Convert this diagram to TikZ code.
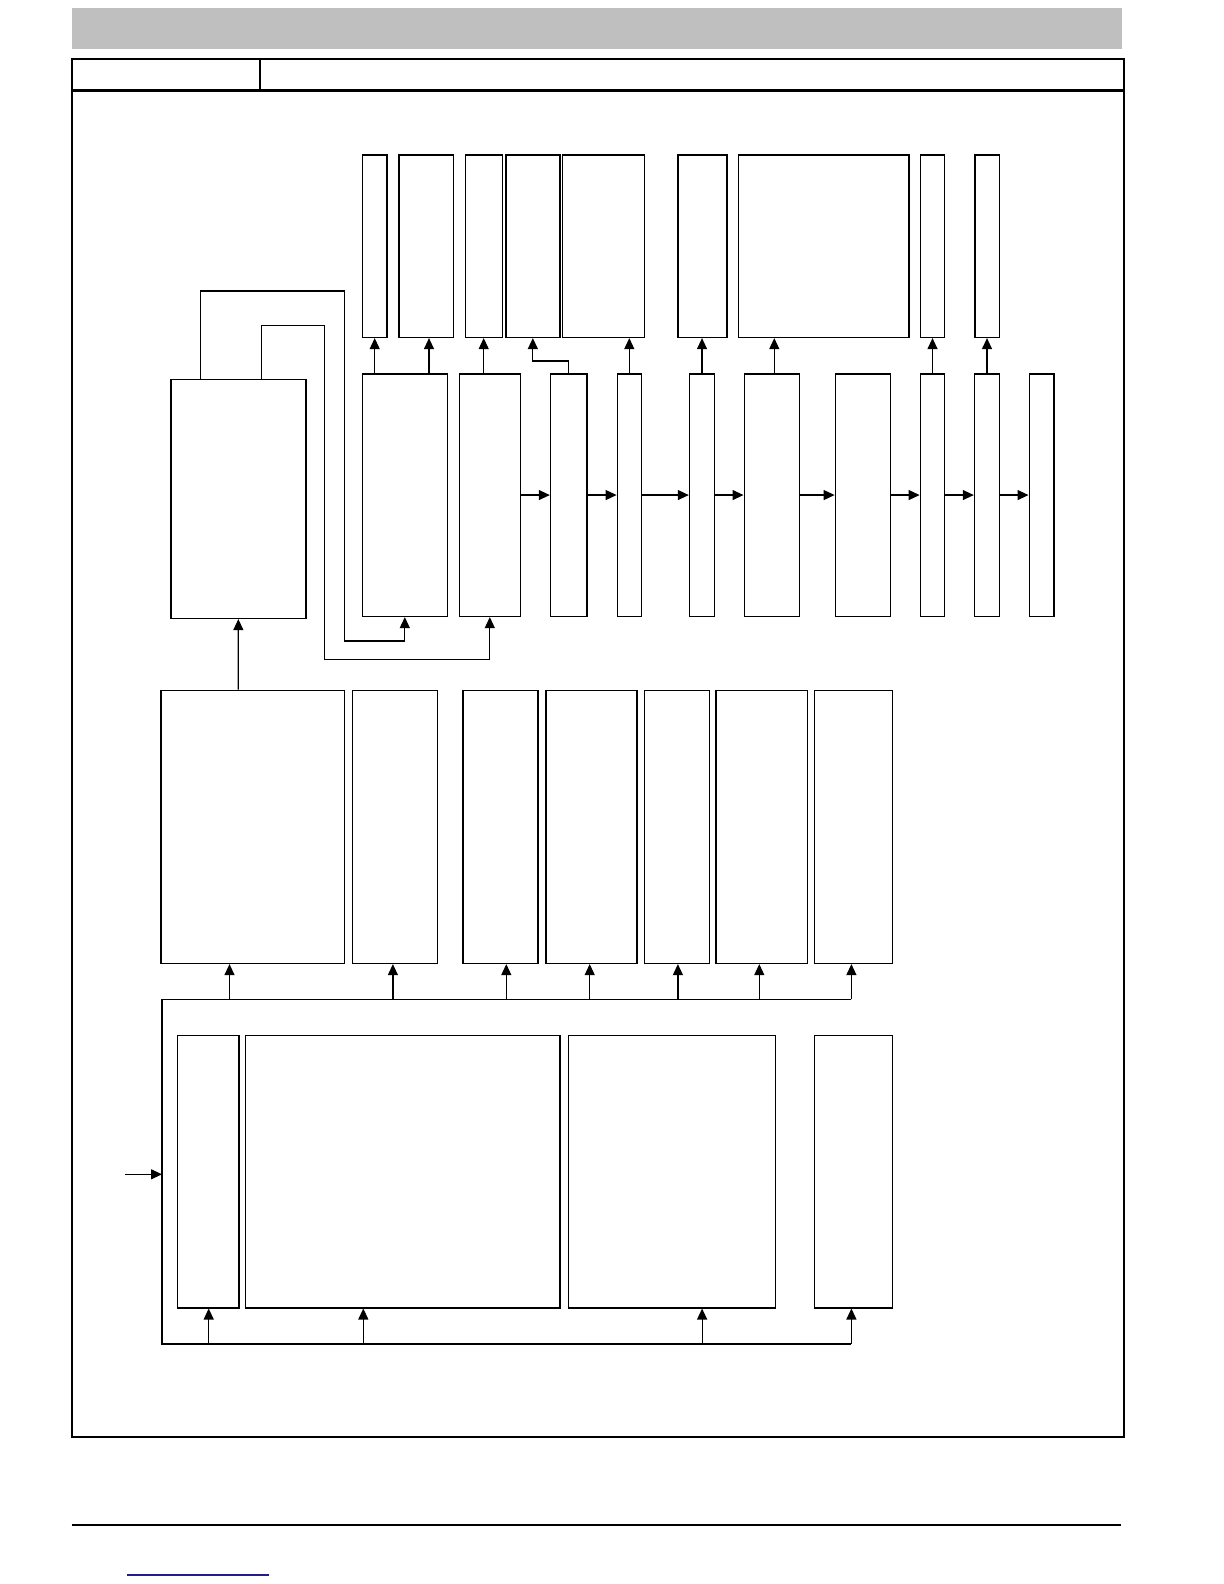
\documentclass[tikz,border=0pt]{standalone}
\usetikzlibrary{arrows.meta,fit}
\definecolor{hdrgray}{RGB}{191,191,191}
\definecolor{linkblue}{RGB}{30,30,140}
\newcommand\bx[5]{\node[box, fit={(#2,#3) (#4,#5)}] (#1) {};}
\begin{document}
\begin{tikzpicture}[x=0.5pt,y=-0.5pt,
  box/.style={draw, line width=0.8pt, inner sep=0pt},
  frame/.style={draw, line width=1pt, inner sep=0pt},
  arr/.style={line width=0.6pt, -{Triangle[length=5.5pt,width=5pt]}},
  wire/.style={line width=0.6pt}]
\useasboundingbox (0,0) rectangle (1224,1584);
% header
\fill[hdrgray] (71.7,8) rectangle (1121.5,49.5);
\node[frame, fit={(71.7,58.6) (1124,1436.5)}] (page) {};
\draw[line width=1.2pt] (page.west |- 0,90.5) -- (page.east |- 0,90.5);
\draw[line width=1pt] (259.6,0 |- page.north) -- (259.6,90.5);
% footer
\draw[line width=1pt] (71.5,1524.5) -- (1121,1524.5);
\draw[linkblue, line width=0.6pt] (127,1575) -- (268.5,1575);

% top row
\bx{T1}{362.3}{155}{386.7}{337.3}
\bx{T2}{398.7}{155}{453.3}{337.3}
\bx{T3}{465.3}{155}{502.3}{337.3}
\bx{T4}{505.7}{155}{560}{337.3}
\bx{T5}{562.3}{155}{644.3}{337.3}
\bx{T6}{677.7}{155}{726.7}{337.3}
\bx{T7}{738.3}{155}{908.7}{337.3}
\bx{T8}{920.3}{155}{944.3}{337.3}
\bx{T9}{974.7}{155}{999.3}{337.3}

% middle row
\bx{L}{170.7}{379.3}{306}{618.3}
\bx{M1}{362.3}{373.8}{447.3}{616.3}
\bx{M2}{459.3}{373.8}{520.3}{616.3}
\bx{M3}{550.6}{373.8}{587.1}{616.3}
\bx{M4}{617.4}{373.8}{641.6}{616.3}
\bx{M5}{689.6}{373.8}{714.3}{616.3}
\bx{M6}{744.3}{373.8}{799.3}{616.3}
\bx{M7}{835.4}{373.8}{890.4}{616.3}
\bx{M8}{920.4}{373.8}{944.3}{616.3}
\bx{M9}{974.6}{373.8}{999.3}{616.3}
\bx{M10}{1029.3}{373.8}{1053.8}{616.3}

% third row
\bx{R1}{161.1}{690.3}{344.4}{963.3}
\bx{R2}{352.6}{690.3}{437.4}{963.3}
\bx{R3}{462.7}{690.3}{537.8}{963.3}
\bx{R4}{546}{690.3}{636.7}{963.3}
\bx{R5}{644.4}{690.3}{709.4}{963.3}
\bx{R6}{716.2}{690.3}{807.3}{963.3}
\bx{R7}{814.6}{690.3}{892.6}{963.3}

% bottom row
\bx{B1}{177.6}{1035.3}{238.7}{1307.7}
\bx{B2}{245.5}{1035.3}{560.1}{1307.7}
\bx{B3}{568.3}{1035.3}{775.3}{1307.7}
\bx{B4}{814.6}{1035.3}{892.6}{1307.7}

% arrows middle -> top
\draw[arr] (374.7,0 |- M1.north) -- (374.7,0 |- T1.south);
\draw[arr] (429,0 |- M1.north) -- (429,0 |- T2.south);
\draw[arr] (483.7,0 |- M2.north) -- (483.7,0 |- T3.south);
\draw[arr] (M3.north) -- ++(0,-12) -| (T4.south);
\draw[arr] (629.3,0 |- M4.north) -- (629.3,0 |- T5.south);
\draw[arr] (702,0 |- M5.north) -- (702,0 |- T6.south);
\draw[arr] (774.3,0 |- M6.north) -- (774.3,0 |- T7.south);
\draw[arr] (932.5,0 |- M8.north) -- (932.5,0 |- T8.south);
\draw[arr] (987,0 |- M9.north) -- (987,0 |- T9.south);

% chain in middle row
\draw[arr] (M2.east) -- (M3.west);
\draw[arr] (M3.east) -- (M4.west);
\draw[arr] (M4.east) -- (M5.west);
\draw[arr] (M5.east) -- (M6.west);
\draw[arr] (M6.east) -- (M7.west);
\draw[arr] (M7.east) -- (M8.west);
\draw[arr] (M8.east) -- (M9.west);
\draw[arr] (M9.east) -- (M10.west);

% wires from L
\draw[arr] (200.3,0 |- L.north) -- (200.3,291) -- (344.3,291) -- (344.3,641) -| (M1.south);
\draw[arr] (261.3,0 |- L.north) -- (261.3,325.7) -- (324.3,325.7) -- (324.3,659.3) -| (M2.south);

% R1 -> L
\draw[arr] (238.3,0 |- R1.north) -- (L.south);

% bus
\coordinate (busTL) at (162,999.3);
\coordinate (busBL) at (162,1344);
\coordinate (busTR) at (851.4,999.3);
\coordinate (busBR) at (851.4,1344);
\coordinate (inp) at (125.3,1174.3);
\draw[wire] (busTR) -- (busTL) -- (busBL) -- (busBR);
\draw[arr] (inp) -- (busTL |- inp);

\draw[arr] (229.5,0 |- busTL) -- (229.5,0 |- R1.south);
\draw[arr] (392.9,0 |- busTL) -- (392.9,0 |- R2.south);
\draw[arr] (506.3,0 |- busTL) -- (506.3,0 |- R3.south);
\draw[arr] (589.7,0 |- busTL) -- (589.7,0 |- R4.south);
\draw[arr] (677.9,0 |- busTL) -- (677.9,0 |- R5.south);
\draw[arr] (759.3,0 |- busTL) -- (759.3,0 |- R6.south);
\draw[arr] (busTR) -- (busTR |- R7.south);

\draw[arr] (208.7,0 |- busBL) -- (208.7,0 |- B1.south);
\draw[arr] (363.3,0 |- busBL) -- (363.3,0 |- B2.south);
\draw[arr] (702.1,0 |- busBL) -- (702.1,0 |- B3.south);
\draw[arr] (busBR) -- (busBR |- B4.south);
\end{tikzpicture}
\end{document}
